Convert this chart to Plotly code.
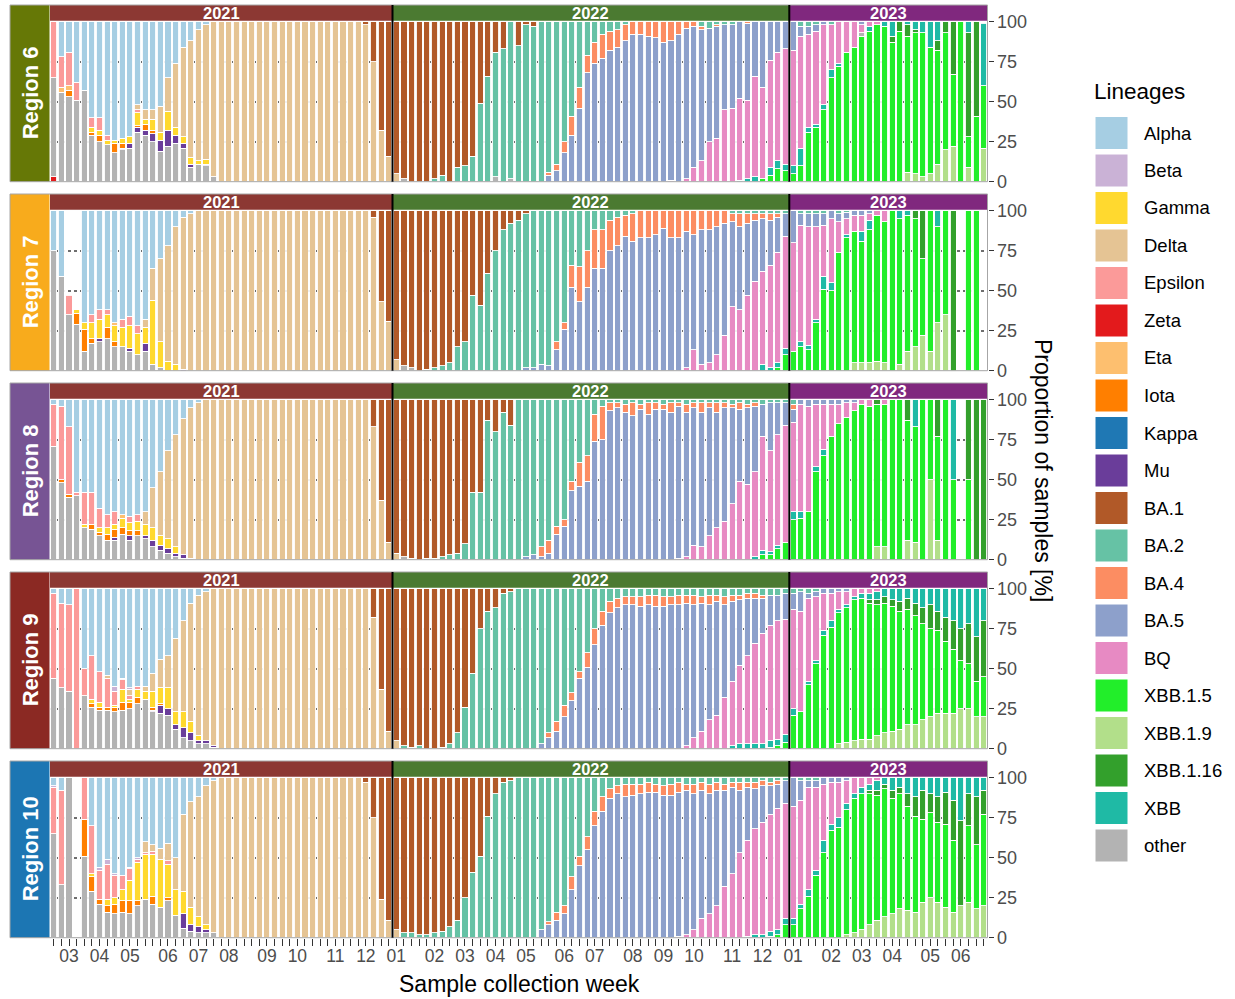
import plotly.graph_objects as go

W, H = 1235, 999
N_WEEKS = 123  # 45 weeks of 2021, 52 of 2022, 26 of 2023

LINEAGES = ["Alpha", "Beta", "Gamma", "Delta", "Epsilon", "Zeta", "Eta", "Iota", "Kappa", "Mu",
            "BA.1", "BA.2", "BA.4", "BA.5", "BQ", "XBB.1.5", "XBB.1.9", "XBB.1.16", "XBB", "other"]
LINEAGE_COLORS = ["#a6cee3", "#cab2d6", "#ffd92f", "#e5c494", "#fb9a99", "#e31a1c", "#fdbf6f", "#ff7f00",
                  "#1f78b4", "#6a3d9a", "#b15928", "#66c2a5", "#fc8d62", "#8da0cb", "#e78ac3", "#22ee2a",
                  "#b2df8a", "#33a02c", "#1fbaa5", "#b3b3b3"]
# bars are stacked alphabetically from the top; plotly stacks the first trace at the bottom
STACK_ORDER = ["Zeta", "XBB.1.9", "XBB.1.5", "XBB.1.16", "XBB", "other", "Mu", "Kappa", "Iota", "Gamma",
               "Eta", "Epsilon", "Delta", "BQ", "Beta", "BA.5", "BA.4", "BA.2", "BA.1", "Alpha"]

PANEL_YEARS = ["2021", "2022", "2023"]
PANEL_WEEKS = [45, 52, 26]
YEAR_COLORS = ["#8c3833", "#4b7a31", "#80287e"]

MONTH_WEEKS_2021 = [2, 6, 10, 15, 19, 23, 28, 32, 37, 41]
MONTH_LABELS_2021 = ["03", "04", "05", "06", "07", "08", "09", "10", "11", "12"]
MONTH_WEEKS_2022 = [0, 5, 9, 13, 17, 22, 26, 31, 35, 39, 44, 48]
MONTH_LABELS_2022 = ["01", "02", "03", "04", "05", "06", "07", "08", "09", "10", "11", "12"]
MONTH_WEEKS_2023 = [0, 5, 9, 13, 18, 22]
MONTH_LABELS_2023 = ["01", "02", "03", "04", "05", "06"]

REGIONS = ["Region 6", "Region 7", "Region 8", "Region 9", "Region 10"]
REGION_COLORS = ["#667806", "#f8ab1c", "#775494", "#8b2923", "#1c76b3"]

# weekly lineage shares (%) per region: lineage -> [(first week index, values), ...]
R6 = {
    "Alpha": [(1, [22, 19, 38, 43, 60, 60, 71, 74, 73, 72, 52, 55, 55, 53, 35, 26, 16, 12, 5, 2])],
    "Epsilon": [(0, [35, 19, 21, 11, 0, 6, 8, 3, 0, 0, 0, 2])],
    "Eta": [(1, [3, 3])],
    "Iota": [(2, [4, 0, 0, 2, 4, 0, 6, 3, 0, 1, 4, 2])],
    "Gamma": [(5, [3, 3, 3, 2, 3, 4, 8, 3, 7, 5, 12, 5, 4, 4, 2, 3])],
    "Mu": [(9, [1, 3, 3, 3, 5, 7, 10, 5, 3, 2, 0, 1])],
    "Zeta": [(0, [3])],
    "Delta": [(11, [3, 6, 6, 16, 21, 40, 56, 73, 82, 84, 97] + [100] * 19 + [98, 75, 32, 16, 5])],
    "other": [(0, [62, 56, 53, 51, 57, 29, 25, 23, 18, 20, 21, 31, 29, 25, 19, 22, 24, 21, 9, 11, 10, 3]),
              (46, [2]), (58, [3]), (60, [2]), (106, [2])],
    "BA.1": [(41, [2, 25, 68, 84, 95, 98, 100, 100, 100, 98, 96, 100, 91, 90, 84, 51, 34, 19, 17, 0, 15, 2, 3])],
    "BA.2": [(50, [2, 4, 0, 9, 10, 16, 49, 66, 78, 83, 98, 85, 98, 97, 100, 94, 89, 75, 59, 41, 21, 13, 8, 6, 5,
                   2, 0, 0, 0, 0, 0, 0, 0, 0, 0, 3, 4, 2, 2, 2]),
             (98, [3, 3, 2, 0, 2])],
    "BA.4": [(65, [2, 4, 7, 12, 13, 11, 13, 15, 12, 11, 10, 8, 8, 9, 10, 13, 12, 8, 4, 3, 2, 0, 1, 0, 0, 0, 1])],
    "BA.5": [(65, [4, 7, 18, 29, 46, 68, 74, 77, 82, 84, 88, 92, 92, 91, 90, 87, 87, 92, 94, 88, 82, 71, 70, 53,
                   52, 48, 48, 34, 41, 24, 19, 17, 18, 6, 5, 4, 2, 0, 0, 0, 0, 2])],
    "BQ": [(81, [1, 0, 2, 9, 13, 25, 27, 45, 46, 51, 49, 63, 57, 67, 68, 72,
                 72, 70, 58, 58, 50, 28, 26, 19, 16, 5, 3, 2])],
    "XBB": [(90, [1, 2, 3, 0, 5, 5, 4,
                  5, 11, 3, 2, 3, 5, 2, 0, 0, 0, 3, 0, 3, 9, 0, 2, 5, 7, 16, 12, 0, 0, 0, 7, 0, 39])],
    "XBB.1.5": [(93, [2, 4, 8, 7,
                      5, 10, 31, 34, 45, 65, 72, 81, 84, 91, 94, 98, 97, 87, 94, 85, 88, 90, 79, 71, 73, 45, 100,
                      19, 41, 39])],
    "XBB.1.16": [(110, [4, 6, 7, 2, 0, 0, 6, 7, 33, 0, 65, 59])],
    "XBB.1.9": [(112, [6, 5, 3, 5, 11, 20, 22, 0, 9, 0, 21])],
}

R7 = {
    "Alpha": [(0, [25, 41, 0, 0, 70, 65, 62, 62, 70, 68, 66, 72, 68, 36, 30, 22, 10, 4, 2])],
    "Epsilon": [(2, [12, 0, 0, 5, 6, 3, 0, 5, 6, 5])],
    "Gamma": [(3, [2, 4, 10, 12, 8, 10, 12, 14, 13, 10, 40, 16, 6, 4])],
    "Iota": [(3, [7, 14, 3, 0, 7, 3])],
    "Mu": [(6, [2, 0, 0, 0, 2, 0, 5, 0, 0, 0, 0, 1])],
    "Eta": [(8, [2])],
    "Delta": [(12, [5, 20, 52, 72, 86, 95, 98] + [100] * 23 + [96, 43, 31, 7])],
    "other": [(0, [75, 59, 35, 29, 12, 17, 18, 20, 15, 15, 12, 10, 12, 4, 2]), (46, [3, 2])],
    "BA.1": [(42, [4, 57, 69, 93, 97, 98, 100, 99, 98, 97, 95, 85, 82, 53, 59, 39, 25, 12, 8, 6, 2])],
    "BA.2": [(49, [1, 2, 3, 5, 15, 18, 47, 41, 61, 75, 88, 92, 94, 96, 98, 96, 97, 82, 70, 34, 35, 25, 12, 12, 6,
                   4, 3, 2, 0, 0, 0, 0, 0, 0, 0, 0, 0, 0, 0, 0, 2, 2, 2, 2, 2, 2, 2, 2]),
             (98, [2, 2, 2, 2, 0, 2, 1])],
    "BA.4": [(66, [5, 4, 14, 22, 23, 24, 24, 19, 18, 13, 17, 17, 17, 15, 11, 17, 17, 13, 15, 12, 12, 10, 8, 5, 8,
                   6, 4, 3, 4, 2])],
    "BA.5": [(62, [2, 2, 4, 3, 13, 26, 52, 43, 52, 64, 64, 75, 78, 84, 81, 83, 83, 85, 89, 83, 83, 85, 72, 84, 83,
                   80, 70, 53, 52, 45, 38, 33, 28, 22, 14,
                   20, 7, 8, 8, 7, 5, 5, 4, 3, 3, 2])],
    "BQ": [(83, [2, 13, 4, 5, 10, 22, 40, 38, 47, 56, 58, 64, 69, 70,
                 68, 73, 74, 58, 32, 40, 19, 10, 10, 10, 4, 3, 7])],
    "XBB": [(93, [4, 2, 3, 4, 0, 3, 3, 2, 8, 5, 0, 2, 0, 6, 6, 0, 0, 0, 5, 3, 0, 0, 0, 10])],
    "XBB.1.5": [(95, [2, 10,
                      12, 15, 13, 30, 51, 50, 74, 83, 82, 76, 83, 91, 88, 100, 91, 85, 80, 48, 88, 60, 65, 0, 0,
                      100, 100, 0])],
    "XBB.1.9": [(105, [5, 5, 5, 6, 5, 0, 4, 12, 15, 22, 12, 30, 35])],
    "XBB.1.16": [(113, [5, 30, 0, 0, 0, 100])],
}

R8 = {
    "Alpha": [(0, [3, 4, 17, 58, 58, 58, 68, 72, 70, 72, 73, 72, 70, 55, 45, 32, 22, 12, 5, 2])],
    "Epsilon": [(0, [26, 46, 42, 2, 20, 20, 12, 8, 8, 0, 4, 4])],
    "Iota": [(1, [2, 2, 0, 0, 3, 2, 4, 5, 4, 3, 3])],
    "Gamma": [(4, [2, 0, 3, 4, 3, 6, 5, 6, 7, 8, 6, 6, 4])],
    "Mu": [(8, [2, 0, 3, 0, 2, 4, 3, 3, 2, 2])],
    "Eta": [(9, [2])],
    "Delta": [(12, [8, 25, 40, 55, 70, 85, 94, 98] + [100] * 22 + [83, 37, 11, 4])],
    "other": [(0, [71, 48, 39, 40, 20, 19, 15, 12, 12, 16, 12, 15, 13, 8, 6, 4, 2, 1, 1]), (46, [2])],
    "BA.1": [(42, [17, 63, 89, 96, 98, 99, 100, 99, 99, 98, 97, 96, 90, 58, 58, 13, 20, 8, 16])],
    "BA.2": [(47, [1, 0, 1, 1, 2, 3, 4, 10, 42, 42, 87, 80, 92, 84, 100, 98, 97, 92, 88, 79, 75, 51, 39, 35, 9,
                   4, 2, 2, 3, 2, 3, 2, 2, 3, 2, 2, 3, 2, 2, 2, 2, 2, 3, 2, 3, 2, 3, 2, 2, 2, 3])],
    "BA.4": [(64, [6, 8, 5, 4, 6, 15, 16, 17, 21, 5, 3, 5, 8, 3, 7, 4, 3, 6, 2, 5, 3, 6, 3, 6, 3, 2, 4, 2, 2]),
             (97, [3])],
    "BA.5": [(62, [2, 3, 2, 4, 16, 21, 43, 46, 49, 74, 75, 93, 95, 92, 90, 94, 91, 94, 94, 92, 95, 90, 86, 84, 80,
                   72, 71, 60, 45, 48, 41, 20, 30, 20, 14,
                   8, 3, 4, 3, 3, 3, 3, 2, 2])],
    "BQ": [(82, [1, 2, 9, 8, 15, 20, 24, 35, 49, 47, 53, 71, 63, 69, 73,
                 56, 67, 66, 39, 28, 20, 12, 9, 5, 3, 4, 0, 3])],
    "XBB": [(92, [2, 3, 2, 2, 0, 5, 4, 0, 3, 4]), (113, [17, 0, 0, 0, 0, 50])],
    "XBB.1.5": [(93, [3, 3, 7, 11,
                      25, 26, 30, 55, 65, 77, 85, 89, 93, 97, 96, 89, 89, 100, 100, 75, 72, 100, 50, 65, 100, 50,
                      0, 50, 0, 0])],
    "XBB.1.9": [(108, [8, 8, 0, 0, 12, 11, 0, 50, 12])],
    "XBB.1.16": [(108, [3, 0, 0, 0, 13, 0, 0, 0, 23, 0, 0, 0, 50, 100, 100])],
}

R9 = {
    "Alpha": [(0, [3, 9, 10, 0, 50, 42, 52, 54, 61, 56, 62, 61, 61, 53, 44, 42, 31, 20, 9, 4, 2])],
    "Beta": [(8, [3, 1, 1])],
    "Epsilon": [(0, [53, 53, 54, 100, 17, 27, 19, 18, 9, 6, 2, 2])],
    "Gamma": [(5, [3, 3, 0, 1, 8, 2, 5, 5, 10, 10, 13, 8, 10, 7, 3])],
    "Iota": [(5, [2, 2, 2, 3, 5, 4, 4, 0, 2, 1])],
    "Mu": [(13, [1, 5, 4, 3, 6, 5, 2, 2, 1])],
    "Delta": [(7, [2, 0, 0, 4, 0, 3, 11, 18, 20, 46, 57, 74, 88, 93, 98] + [100] * 20 + [82, 37, 11, 5])],
    "other": [(0, [44, 38, 36, 0, 33, 26, 24, 24, 23, 24, 25, 28, 31, 23, 22, 21, 12, 7, 5, 3, 3, 1])],
    "BA.1": [(42, [18, 63, 89, 95, 98, 99, 98, 100, 100, 99, 97, 90, 74, 53, 25, 14, 12, 3, 2])],
    "BA.2": [(46, [2, 1, 2, 0, 0, 1, 3, 10, 26, 47, 75, 86, 88, 97, 98, 100, 100, 100, 97, 90, 83, 73, 65, 52, 40,
                   25, 14, 8, 6, 5, 5, 5, 4, 4, 5, 5, 4, 4, 4, 5, 4, 4, 5, 4, 4, 3, 3, 4, 4, 4, 3,
                   3, 2, 3, 2])],
    "BA.4": [(65, [3, 6, 7, 5, 4, 9, 10, 9, 7, 6, 5, 5, 6, 6, 7, 6, 5, 6, 5, 6, 4, 6, 4, 5, 4, 3, 3, 3, 2])],
    "BA.5": [(64, [3, 7, 11, 20, 30, 44, 51, 65, 77, 85, 88, 90, 90, 89, 90, 89, 89, 90, 90, 89, 83, 80, 72, 71,
                   58, 50, 41, 36, 28, 22, 19, 16, 16,
                   10, 12, 3, 3, 3, 3, 2, 2])],
    "BQ": [(83, [2, 7, 11, 18, 21, 32, 40, 49, 55, 63, 69, 72, 74, 72,
                 62, 63, 52, 40, 23, 17, 11, 8, 5, 3, 3, 2])],
    "XBB": [(89, [2, 3, 3, 3, 3, 4, 4, 5,
                  4, 0, 2, 2, 3, 4, 2, 2, 2, 3, 4, 5, 5, 7, 8, 6, 9, 12, 10, 14, 18, 20, 25, 22, 30, 20])],
    "XBB.1.5": [(94, [1, 2, 4,
                      21, 23, 40, 53, 71, 76, 82, 84, 88, 88, 85, 82, 81, 78, 74, 72, 68, 60, 55, 52, 45, 40, 30,
                      28, 22, 25])],
    "XBB.1.9": [(103, [3, 4, 5, 6, 6, 8, 10, 11, 12, 15, 15, 18, 20, 22, 22, 22, 25, 25, 20, 20])],
    "XBB.1.16": [(107, [2, 3, 4, 4, 6, 7, 8, 10, 15, 12, 15, 18, 20, 25, 28, 35])],
}

R10 = {
    "Alpha": [(0, [5, 8, 0, 0, 0, 30, 56, 51, 60, 61, 56, 50, 40, 42, 44, 41, 50, 23, 15, 12, 5, 2])],
    "Beta": [(0, [1, 0, 0, 0, 0, 0, 2, 3, 1, 0, 1, 1])],
    "Epsilon": [(0, [29, 59, 0, 0, 26, 30, 18, 22, 14, 9, 7, 2, 1, 2, 0, 2])],
    "Gamma": [(5, [2, 0, 4, 4, 7, 13, 24, 28, 26, 30, 21, 16, 14, 11, 6, 3])],
    "Iota": [(4, [23, 9, 3, 4, 6, 7, 8, 3, 0, 5, 0, 2])],
    "Mu": [(17, [9, 4, 4, 2])],
    "Delta": [(12, [7, 4, 7, 11, 20, 48, 66, 75, 87, 95] + [100] * 19 + [97, 75, 24, 11, 5])],
    "other": [(0, [65, 33, 100, 0, 51, 29, 21, 16, 15, 16, 15, 20, 24, 21, 19, 23, 14, 6, 4, 3, 3, 3])],
    "BA.1": [(41, [3, 25, 76, 89, 95, 97, 97, 98, 98, 97, 96, 93, 89, 75, 59, 49, 24, 10, 3, 2])],
    "BA.2": [(46, [3, 3, 2, 2, 3, 4, 7, 11, 25, 41, 51, 76, 90, 97, 98, 100, 100, 100, 95, 90, 84, 80, 62, 49, 37,
                   21, 12, 7, 5, 4, 4, 4, 3, 4, 5, 4, 3, 4, 4, 3, 4, 3, 4, 3, 3, 3, 3, 2, 3, 2, 2,
                   0, 2, 2, 2])],
    "BA.4": [(65, [2, 5, 5, 8, 6, 8, 9, 9, 6, 5, 8, 7, 6, 6, 5, 6, 7, 6, 4, 6, 5, 6, 5, 4, 3, 5, 3, 4, 3, 2, 2])],
    "BA.5": [(64, [5, 8, 11, 15, 30, 45, 55, 70, 79, 87, 90, 88, 89, 90, 91, 91, 89, 89, 90, 90, 85, 80, 75, 72,
                   60, 54, 39, 33, 25, 23, 18, 15, 14,
                   18, 12, 4, 4, 4, 3, 3, 2])],
    "BQ": [(82, [1, 2, 5, 12, 15, 20, 32, 40, 53, 60, 66, 70, 73, 76, 72,
                 70, 65, 64, 52, 35, 26, 22, 14, 10, 6, 4, 2])],
    "XBB": [(91, [1, 2, 2, 3, 3, 4,
                  4, 3, 4, 3, 8, 4, 6, 4, 3, 4, 4, 6, 4, 8, 6, 10, 12, 8, 10, 12, 9, 14, 27, 10, 12, 8])],
    "XBB.1.5": [(94, [1, 2, 8,
                      8, 18, 26, 39, 53, 67, 69, 78, 84, 85, 82, 78, 80, 72, 72, 65, 60, 52, 53, 50, 52, 45, 0,
                      48, 40, 57])],
    "XBB.1.9": [(104, [2, 3, 5, 8, 11, 13, 15, 18, 17, 16, 22, 25, 22, 19, 16, 20, 22, 18, 20])],
    "XBB.1.16": [(107, [2, 3, 3, 5, 4, 8, 12, 18, 12, 16, 20, 25, 53, 20, 30, 15])],
}

REGION_DATA = [R6, R7, R8, R9, R10]

FONT = "Liberation Sans, Arial, sans-serif"

# pixel layout of the facet grid
COL_PX = [(50.0, 392.5), (392.5, 789.3), (789.3, 987.5)]
ROW_STEP = 189.0
STRIP_TOP, STRIP_BOTTOM = 5.0, 20.7
PANEL_TOP, PANEL_BOTTOM = 21.0, 181.7


def px_x(px):
    return px / W


def px_y(py):
    return 1 - py / H


def weekly_series(segments):
    values = [0] * N_WEEKS
    for start, vals in segments:
        for k, v in enumerate(vals):
            values[start + k] = v
    return values


color_of = dict(zip(LINEAGES, LINEAGE_COLORS))
month_ticks = [(MONTH_WEEKS_2021, MONTH_LABELS_2021), (MONTH_WEEKS_2022, MONTH_LABELS_2022),
               (MONTH_WEEKS_2023, MONTH_LABELS_2023)]
col_start = [0, PANEL_WEEKS[0], PANEL_WEEKS[0] + PANEL_WEEKS[1]]

fig = go.Figure()
layout_axes = {}
shapes = []
annotations = []

for r, (region, data) in enumerate(zip(REGIONS, REGION_DATA)):
    full = {name: weekly_series(segs) for name, segs in data.items()}
    off = r * ROW_STEP
    for c in range(3):
        k = r * 3 + c + 1
        xa = "x" if k == 1 else f"x{k}"
        ya = "y" if k == 1 else f"y{k}"
        n = PANEL_WEEKS[c]
        s0 = col_start[c]
        for name in STACK_ORDER:
            if name not in full:
                continue
            vals = full[name][s0:s0 + n]
            if not any(vals):
                continue
            fig.add_trace(go.Bar(
                x=list(range(n)), y=[v if v else None for v in vals],
                name=name, marker=dict(color=color_of[name], line=dict(color="white", width=0.9)),
                xaxis=xa, yaxis=ya, showlegend=False,
                hovertemplate=f"{region} {PANEL_YEARS[c]}<br>{name}: %{{y}}%<extra></extra>"))

        x0, x1 = COL_PX[c]
        bottom_row = r == len(REGIONS) - 1
        weeks, labels = month_ticks[c]
        tick_text = [labels[weeks.index(i)] if i in weeks else "" for i in range(n)]
        xaxis = dict(domain=[px_x(x0), px_x(x1)], range=[-0.5, n - 0.5], anchor=ya, automargin=False,
                     showgrid=False, zeroline=False, showline=False, fixedrange=True)
        if bottom_row:
            xaxis.update(tickmode="array", tickvals=list(range(n)), ticktext=tick_text,
                         ticks="outside", ticklen=7, tickwidth=1, tickcolor="#333333",
                         tickfont=dict(family=FONT, size=17.5, color="#4d4d4d"), tickangle=0,
                         ticklabelstandoff=-5)
        else:
            xaxis.update(showticklabels=False, ticks="")
        yaxis = dict(domain=[px_y(PANEL_BOTTOM + off), px_y(PANEL_TOP + off)], range=[0, 100.4], anchor=xa,
                     automargin=False, tickmode="array", tickvals=[25, 50, 75], showgrid=True,
                     gridcolor="#6e6e6e", griddash="dot", gridwidth=1.5, zeroline=False, showline=False,
                     fixedrange=True)
        if c == 2:
            yaxis.update(side="right", tickvals=[0, 25, 50, 75, 100], ticks="outside", ticklen=5,
                         tickwidth=1.2, tickcolor="#333333", showticklabels=True,
                         tickfont=dict(family=FONT, size=18, color="#4d4d4d"))
        else:
            yaxis.update(showticklabels=False, ticks="")
        layout_axes["xaxis" if k == 1 else f"xaxis{k}"] = xaxis
        layout_axes["yaxis" if k == 1 else f"yaxis{k}"] = yaxis

        # year strip above each panel
        shapes.append(dict(type="rect", xref="paper", yref="paper",
                           x0=px_x(x0), x1=px_x(x1), y0=px_y(STRIP_BOTTOM + off), y1=px_y(STRIP_TOP + off),
                           fillcolor=YEAR_COLORS[c], line=dict(width=0), layer="above"))
        annotations.append(dict(xref="paper", yref="paper", x=px_x((x0 + x1) / 2),
                                y=px_y((STRIP_TOP + STRIP_BOTTOM) / 2 + off), text=f"<b>{PANEL_YEARS[c]}</b>",
                                showarrow=False, font=dict(family=FONT, size=16.5, color="white"),
                                xanchor="center", yanchor="middle"))

    # region strip on the left
    shapes.append(dict(type="rect", xref="paper", yref="paper",
                       x0=px_x(10), x1=px_x(49.5), y0=px_y(PANEL_BOTTOM + off), y1=px_y(STRIP_TOP + off),
                       fillcolor=REGION_COLORS[r], line=dict(width=0), layer="above"))
    annotations.append(dict(xref="paper", yref="paper", x=px_x(30), y=px_y((STRIP_TOP + PANEL_BOTTOM) / 2 + off),
                            text=f"<b>{region}</b>", textangle=-90, showarrow=False,
                            font=dict(family=FONT, size=22, color="white"), xanchor="center", yanchor="middle"))
    # row frame
    shapes.append(dict(type="rect", xref="paper", yref="paper",
                       x0=px_x(10), x1=px_x(987.5), y0=px_y(PANEL_BOTTOM + off), y1=px_y(STRIP_TOP + off),
                       line=dict(color="#a6a6a6", width=1), layer="above"))
    # year separators
    for xs in (392.5, 789.3):
        shapes.append(dict(type="line", xref="paper", yref="paper", x0=px_x(xs), x1=px_x(xs),
                           y0=px_y(PANEL_BOTTOM + off), y1=px_y(STRIP_TOP + off),
                           line=dict(color="black", width=2), layer="above"))

# axis titles
annotations.append(dict(xref="paper", yref="paper", x=px_x(519), y=px_y(984), text="Sample collection week",
                        showarrow=False, font=dict(family=FONT, size=23, color="black"),
                        xanchor="center", yanchor="middle"))
annotations.append(dict(xref="paper", yref="paper", x=px_x(1043), y=px_y(470), text="Proportion of samples [%]",
                        textangle=90, showarrow=False, font=dict(family=FONT, size=23, color="black"),
                        xanchor="center", yanchor="middle"))

# legend
annotations.append(dict(xref="paper", yref="paper", x=px_x(1092), y=px_y(91), text="Lineages",
                        showarrow=False, font=dict(family=FONT, size=22.5, color="black"),
                        xanchor="left", yanchor="middle"))
for j, name in enumerate(LINEAGES):
    cy = 133 + 37.5 * j
    shapes.append(dict(type="rect", xref="paper", yref="paper", x0=px_x(1095), x1=px_x(1128),
                       y0=px_y(cy + 16.5), y1=px_y(cy - 16.5), fillcolor=color_of[name],
                       line=dict(color="white", width=1)))
    annotations.append(dict(xref="paper", yref="paper", x=px_x(1142), y=px_y(cy), text=name, showarrow=False,
                            font=dict(family=FONT, size=18.5, color="black"), xanchor="left", yanchor="middle"))

fig.update_layout(
    width=W, height=H, margin=dict(l=0, r=0, t=0, b=0, pad=0), autosize=False,
    paper_bgcolor="white", plot_bgcolor="white",
    barmode="stack", bargap=0.2, showlegend=False,
    shapes=shapes, annotations=annotations, **layout_axes)

fig.write_html("out.html")
